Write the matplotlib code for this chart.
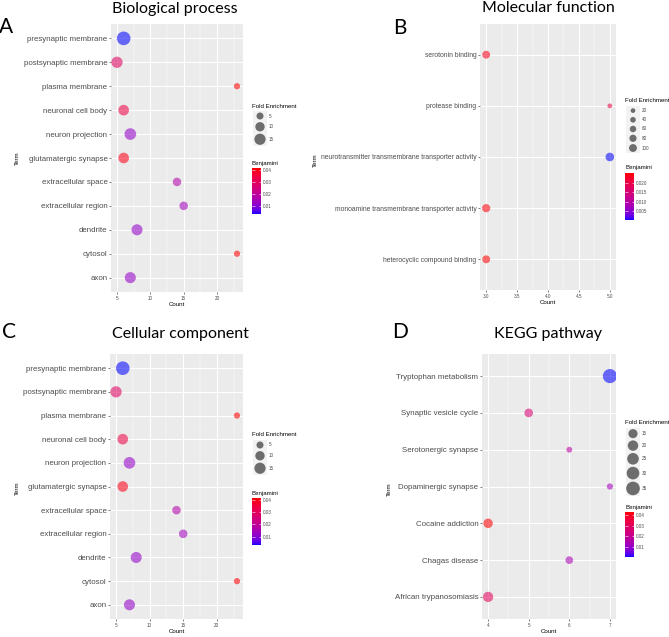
import numpy as np
import matplotlib

matplotlib.use("Agg")
import matplotlib.pyplot as plt
from matplotlib.cm import ScalarMappable
from matplotlib.colors import ListedColormap, Normalize

W, H = 669, 637
plt.rcParams["font.family"] = ["Liberation Sans", "DejaVu Sans"]

# ---- data ----------------------------------------------------------------
# panel A and C carry the same GO table in the source figure
bp_terms = ["presynaptic membrane", "postsynaptic membrane", "plasma membrane",
            "neuronal cell body", "neuron projection", "glutamatergic synapse",
            "extracellular space", "extracellular region", "dendrite", "cytosol", "axon"]
bp_count = [6, 5, 23, 6, 7, 6, 14, 15, 8, 23, 7]
bp_fold = [19, 12.5, 2.8, 11, 13.5, 11, 6.5, 6.5, 12, 2.8, 12]
bp_benj = [0.0033, 0.029, 0.0415, 0.034, 0.012, 0.040, 0.017, 0.014, 0.012, 0.0415, 0.012]

cc_terms = list(bp_terms)
cc_count = list(bp_count)
cc_fold = list(bp_fold)
cc_benj = list(bp_benj)

mf_terms = ["serotonin binding", "protease binding",
            "neurotransmitter transmembrane transporter activity",
            "monoamine transmembrane transporter activity", "heterocyclic compound binding"]
mf_count = [3, 5, 5, 3, 3]
mf_fold = [81, 14, 100, 90, 81]
mf_benj = [0.024, 0.020, 0.0002, 0.025, 0.0254]

kegg_terms = ["Tryptophan metabolism", "Synaptic vesicle cycle", "Serotonergic synapse",
              "Dopaminergic synapse", "Cocaine addiction", "Chagas disease",
              "African trypanosomiasis"]
kegg_count = [7, 5, 6, 7, 4, 6, 4]
kegg_fold = [31.5, 11, 4.5, 5.2, 13.4, 8.5, 16]
kegg_benj = [0.0007, 0.026, 0.017, 0.013, 0.0428, 0.014, 0.030]

bp_xticks = [5, 10, 15, 20]
mf_xticks = [3.0, 3.5, 4.0, 4.5, 5.0]
kegg_xticks = [4, 5, 6, 7]
bp_size_breaks = [5, 10, 15]
mf_size_breaks = [20, 40, 60, 80, 100]
kegg_size_breaks = [15, 20, 25, 30, 35]
bp_benj_ticks = [0.01, 0.02, 0.03, 0.04]
mf_benj_ticks = [0.005, 0.010, 0.015, 0.020]
kegg_benj_ticks = [0.01, 0.02, 0.03, 0.04]


# ---- blue -> red gradient interpolated in Lab, like ggplot -----------------
def srgb_to_lab(rgb):
    rgb = np.asarray(rgb, float)
    lin = np.where(rgb <= 0.04045, rgb / 12.92, ((rgb + 0.055) / 1.055) ** 2.4)
    m = np.array([[0.4124, 0.3576, 0.1805], [0.2126, 0.7152, 0.0722], [0.0193, 0.1192, 0.9505]])
    t = (m @ lin) / np.array([0.95047, 1.0, 1.08883])
    f = np.where(t > (6 / 29) ** 3, np.cbrt(t), t / (3 * (6 / 29) ** 2) + 4 / 29)
    return np.array([116 * f[1] - 16, 500 * (f[0] - f[1]), 200 * (f[1] - f[2])])


def lab_to_srgb(lab):
    L, a, b = lab
    fy = (L + 16) / 116
    f = np.array([fy + a / 500, fy, fy - b / 200])
    t = np.where(f > 6 / 29, f ** 3, 3 * (6 / 29) ** 2 * (f - 4 / 29))
    xyz = t * np.array([0.95047, 1.0, 1.08883])
    minv = np.array([[3.2406, -1.5372, -0.4986], [-0.9689, 1.8758, 0.0415], [0.0557, -0.2040, 1.0570]])
    lin = np.clip(minv @ xyz, 0, 1)
    rgb = np.where(lin <= 0.0031308, 12.92 * lin, 1.055 * lin ** (1 / 2.4) - 0.055)
    return np.clip(rgb, 0, 1)


lab_lo, lab_hi = srgb_to_lab([0, 0, 1]), srgb_to_lab([1, 0, 0])
CMAP = ListedColormap([lab_to_srgb(lab_lo + (lab_hi - lab_lo) * k) for k in np.linspace(0, 1, 256)])

DOT_SCALE = 1.18   # points look a bit heavier than the legend keys in the source
KEY_SCALE = 1.08


def px(x, y):
    return x / W, 1 - y / H


def rect(x0, y0, x1, y1):
    return [x0 / W, 1 - y1 / H, (x1 - x0) / W, (y1 - y0) / H]


def diam(folds, ab, scale):
    return scale * np.sqrt(ab[0] + ab[1] * np.asarray(folds, float))


def draw_panel(fig, box, terms, counts, folds, benj, xticks, xlabels, ab, term_fs):
    ax = fig.add_axes(rect(*box))
    n = len(terms)
    y = np.arange(n)
    norm = Normalize(min(benj), max(benj))
    ax.scatter(counts, y, s=(diam(folds, ab, DOT_SCALE) * 0.72) ** 2, c=benj, cmap=CMAP,
               norm=norm, alpha=0.57, linewidths=0, zorder=3)
    lo, hi = min(counts), max(counts)
    pad = 0.05 * (hi - lo)
    ax.set_xlim(lo - pad, hi + pad)
    ax.set_ylim(n - 1 + 0.6, -0.6)
    step = xticks[1] - xticks[0]
    minor = [v for v in np.arange(xticks[0] - step / 2, hi + pad, step) if lo - pad < v < hi + pad]
    ax.set_xticks(xticks)
    ax.set_xticklabels(xlabels)
    ax.set_xticks(minor, minor=True)
    ax.set_yticks(y)
    ax.set_yticklabels(terms)
    ax.set_facecolor("#EBEBEB")
    for s in ax.spines.values():
        s.set_visible(False)
    ax.set_axisbelow(True)
    ax.grid(True, which="major", color="white", lw=0.75)
    ax.grid(True, which="minor", axis="x", color="white", lw=0.35)
    ax.tick_params(which="major", length=1.6, width=0.45, color="#333333", pad=1,
                   labelcolor="#4D4D4D")
    ax.tick_params(which="minor", length=0)
    ax.tick_params(axis="x", labelsize=3.3)
    ax.tick_params(axis="y", labelsize=term_fs)
    ax.set_xlabel("Count", fontsize=4.4, labelpad=0.8)
    return ax, norm


def size_legend(fig, x, y_title, breaks, ab, base_h):
    fig.text(*px(x, y_title), "Fold Enrichment", fontsize=4.4, va="center", ha="left")
    d = diam(breaks, ab, KEY_SCALE)
    h = np.maximum(base_h, d + 2.2)
    top = y_title + 5
    centers = top + np.cumsum(h) - h / 2
    kx0, kx1 = x + 1, x + 15
    kax = fig.add_axes(rect(kx0, top, kx1, top + h.sum()))
    kax.set_facecolor("#F2F2F2")
    for s in kax.spines.values():
        s.set_visible(False)
    kax.set_xticks([])
    kax.set_yticks([])
    kax.set_xlim(0, 1)
    kax.set_ylim(top + h.sum(), top)
    kax.scatter(np.full(len(breaks), 0.5), centers, s=(d * 0.72) ** 2, color="black",
                alpha=0.55, linewidths=0)
    for c, lab in zip(centers, breaks):
        fig.text(*px(kx1 + 2, c), str(lab), fontsize=3.3, va="center", color="#4D4D4D")


def color_legend(fig, x, y_title, ticks, fmt, norm, bar_h):
    fig.text(*px(x, y_title), "Benjamini", fontsize=4.4, va="center", ha="left")
    cax = fig.add_axes(rect(x, y_title + 5, x + 9, y_title + 5 + bar_h))
    cb = fig.colorbar(ScalarMappable(norm=norm, cmap=CMAP), cax=cax, ticks=ticks)
    cb.outline.set_visible(False)
    cb.ax.set_yticklabels([fmt.format(t) for t in ticks])
    cax.yaxis.set_ticks_position("both")
    cax.tick_params(length=1.8, width=0.4, color="white", direction="in", labelsize=3.3,
                    labelcolor="#4D4D4D", pad=1.5, labelleft=False, labelright=True)


fig = plt.figure(figsize=(W / 100, H / 100), dpi=100)

bp_ab, mf_ab, kegg_ab = (10, 6.5), (10, 0.43), (5, 4.4)

# A
ax, norm = draw_panel(fig, (111, 24, 243, 292), bp_terms, bp_count, bp_fold, bp_benj,
                      bp_xticks, [str(v) for v in bp_xticks], bp_ab, 5.7)
size_legend(fig, 252, 106, bp_size_breaks, bp_ab, 10)
color_legend(fig, 252, 163, bp_benj_ticks, "{:.2f}", norm, 46)
fig.text(*px(17, 158), "Term", fontsize=4.4, rotation=90, ha="center", va="center")

# B
ax, norm = draw_panel(fig, (480, 24, 616, 290), mf_terms, mf_count, mf_fold, mf_benj,
                      mf_xticks, [f"{v:.1f}" for v in mf_xticks], mf_ab, 4.9)
size_legend(fig, 625, 101, mf_size_breaks, mf_ab, 9.2)
color_legend(fig, 625, 168, mf_benj_ticks, "{:.3f}", norm, 47)
fig.text(*px(315, 160), "Term", fontsize=4.4, rotation=90, ha="center", va="center")

# C
ax, norm = draw_panel(fig, (110, 354, 243, 619), cc_terms, cc_count, cc_fold, cc_benj,
                      bp_xticks, [str(v) for v in bp_xticks], bp_ab, 5.7)
size_legend(fig, 252, 435, bp_size_breaks, bp_ab, 10)
color_legend(fig, 252, 493, bp_benj_ticks, "{:.2f}", norm, 47)
fig.text(*px(17, 488), "Term", fontsize=4.4, rotation=90, ha="center", va="center")

# D
ax, norm = draw_panel(fig, (482, 354, 616, 619), kegg_terms, kegg_count, kegg_fold, kegg_benj,
                      kegg_xticks, [str(v) for v in kegg_xticks], kegg_ab, 5.65)
size_legend(fig, 625, 423, kegg_size_breaks, kegg_ab, 9)
color_legend(fig, 625, 507, kegg_benj_ticks, "{:.2f}", norm, 45)
fig.text(*px(389, 489), "Term", fontsize=4.4, rotation=90, ha="center", va="center")

# titles and panel letters
title_kw = dict(fontsize=11.5, family="Lato", ha="center", va="baseline")
fig.text(*px(175, 12.5), "Biological process", **title_kw)
fig.text(*px(548, 12.5), "Molecular function", **title_kw)
fig.text(*px(180, 338), "Cellular component", **title_kw)
fig.text(*px(548, 338), "KEGG pathway", **title_kw)
letter_kw = dict(fontsize=15, family="Lato", ha="center", va="baseline")
fig.text(*px(6, 33), "A", **letter_kw)
fig.text(*px(400, 34), "B", **letter_kw)
fig.text(*px(9, 338), "C", **letter_kw)
fig.text(*px(400, 338), "D", **letter_kw)

fig.savefig("out.png", dpi=100, facecolor="white")
